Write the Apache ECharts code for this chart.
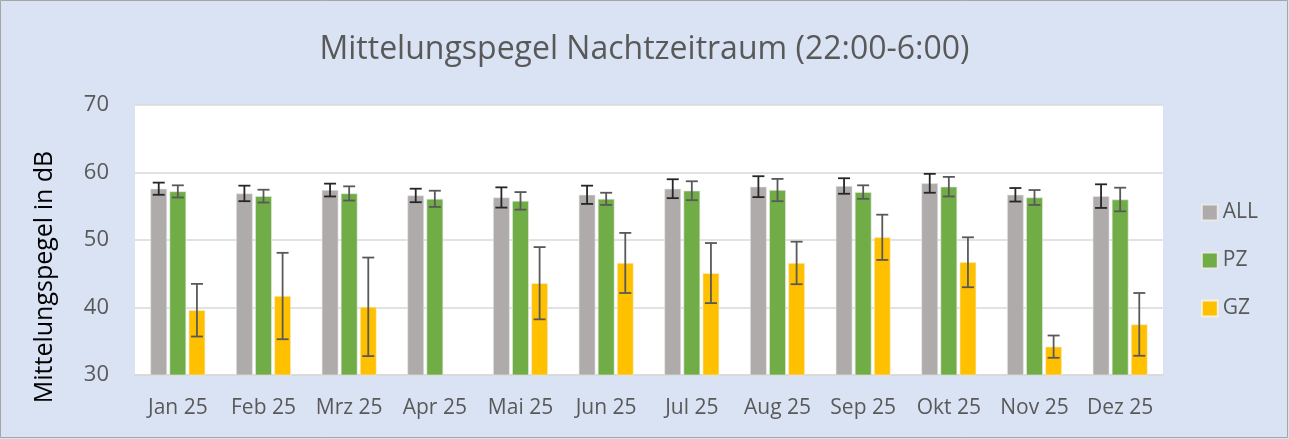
<!DOCTYPE html>
<html><head><meta charset="utf-8">
<script src="https://cdn.jsdelivr.net/npm/echarts@6/dist/echarts.min.js"></script>
<style>html,body{margin:0;padding:0;background:#DAE3F3}#c{width:1289px;height:439px}</style>
</head><body><div id="c"></div>
<script>
const categories = ['Jan 25','Feb 25','Mrz 25','Apr 25','Mai 25','Jun 25','Jul 25','Aug 25','Sep 25','Okt 25','Nov 25','Dez 25'];
const valuesAll = [57.6,56.9,57.4,56.6,56.3,56.7,57.6,57.9,58.0,58.4,56.7,56.5];
const valuesPz  = [57.2,56.5,56.9,56.1,55.8,56.1,57.3,57.4,57.1,57.9,56.3,56.0];
const valuesGz  = [39.6,41.7,40.1,null,43.6,46.6,45.1,46.6,50.4,46.7,34.2,37.5];
const errAll = [0.9,1.15,0.95,1.0,1.5,1.35,1.4,1.55,1.15,1.4,1.0,1.75];
const errPz  = [0.9,0.95,1.05,1.2,1.3,0.9,1.4,1.65,1.0,1.45,1.1,1.75];
const errGz  = [3.9,6.4,7.3,null,5.35,4.45,4.45,3.15,3.35,3.7,1.65,4.65];
const yTicks = [30,40,50,60,70];

const CAT_GAP = 0.36, BAR_GAP = 0.15;
function errData(vals, errs){
  return vals.map((v,i)=> (v==null||errs[i]==null) ? [i,null,null] : [i, v-errs[i], v+errs[i]]);
}
function errSeries(vals, errs, slot, color){
  return {
    type:'custom', silent:true, z:10,
    data: errData(vals, errs),
    encode:{x:0,y:[1,2]},
    renderItem: function(params, api){
      const lo = api.value(1), hi = api.value(2);
      if (lo == null || isNaN(lo)) return;
      const band = api.size([1,0])[0];
      const bw = band*(1-CAT_GAP)/(3+2*BAR_GAP);
      const off = slot*(bw*(1+BAR_GAP));
      const pLo = api.coord([api.value(0), lo]);
      const pHi = api.coord([api.value(0), hi]);
      const x = pLo[0] + off, cap = 6;
      const st = {stroke:color, lineWidth:1.8};
      return {type:'group', children:[
        {type:'line', shape:{x1:x,y1:pLo[1],x2:x,y2:pHi[1]}, style:st},
        {type:'line', shape:{x1:x-cap,y1:pLo[1],x2:x+cap,y2:pLo[1]}, style:st},
        {type:'line', shape:{x1:x-cap,y1:pHi[1],x2:x+cap,y2:pHi[1]}, style:st}
      ]};
    }
  };
}
const chart = echarts.init(document.getElementById('c'));
const font = 'Open Sans';
chart.setOption({
  backgroundColor:'#DAE3F3',
  animation:false,
  textStyle:{fontFamily:font},
  title:{text:'Mittelungspegel Nachtzeitraum (22:00-6:00)', left:'center', top:29,
    textStyle:{fontFamily:font, fontWeight:'normal', fontSize:32, color:'#595959'}},
  graphic:[
    {type:'rect', shape:{x:0.5,y:0.5,width:1287,height:437}, style:{fill:null, stroke:'#A6A6A6', lineWidth:1}, silent:true},
    {type:'text', x:45, y:277, rotation:Math.PI/2, silent:true,
      style:{text:'Mittelungspegel in dB', fontFamily:font, fontSize:25, fill:'#000', align:'center', verticalAlign:'middle'}}
  ],
  legend:{orient:'vertical', right:26, top:197, itemGap:27, itemWidth:16, itemHeight:16,
    icon:'rect', data:['ALL','PZ','GZ'],
    textStyle:{fontFamily:font, fontSize:21, lineHeight:21, color:'#595959'}},
  grid:{left:135, right:126, top:105, bottom:64, show:true, backgroundColor:'#fff', borderWidth:0},
  xAxis:{type:'category', data:categories,
    axisLine:{lineStyle:{color:'#D9D9D9', width:1.5}}, axisTick:{show:false},
    axisLabel:{fontFamily:font, fontSize:21, color:'#595959', margin:23, interval:0, hideOverlap:false}},
  yAxis:{type:'value', min:yTicks[0], max:yTicks[yTicks.length-1], interval:10,
    axisLine:{show:false}, axisTick:{show:false},
    axisLabel:{fontFamily:font, fontSize:22, color:'#595959', margin:26},
    splitLine:{lineStyle:{color:'#D9D9D9', width:1.5}}},
  series:[
    {name:'ALL', type:'bar', data:valuesAll, barGap:(BAR_GAP*100)+'%', barCategoryGap:(CAT_GAP*100)+'%',
      itemStyle:{color:'#AFABAB', borderColor:'#E8E8E8', borderWidth:0.6}},
    {name:'PZ', type:'bar', data:valuesPz, barGap:(BAR_GAP*100)+'%', barCategoryGap:(CAT_GAP*100)+'%',
      itemStyle:{color:'#70AD47', borderColor:'#E8E8E8', borderWidth:0.6}},
    {name:'GZ', type:'bar', data:valuesGz, barGap:(BAR_GAP*100)+'%', barCategoryGap:(CAT_GAP*100)+'%',
      itemStyle:{color:'#FFC000', borderColor:'#F5F0E0', borderWidth:0.6}},
    errSeries(valuesAll, errAll, -1, '#262626'),
    errSeries(valuesPz, errPz, 0, '#595959'),
    errSeries(valuesGz, errGz, 1, '#595959')
  ]
});
</script></body></html>
